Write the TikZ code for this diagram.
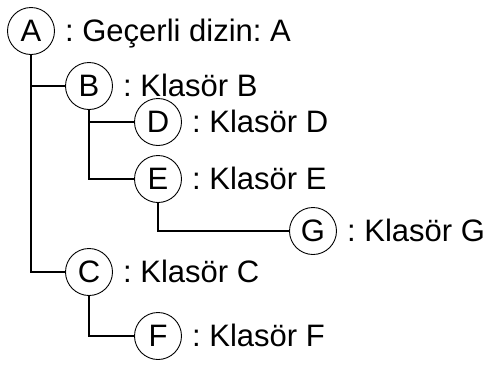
\documentclass[tikz,border=0pt]{standalone}
\usepackage{fontspec}
\setmainfont{Liberation Sans}
\usetikzlibrary{shapes.geometric,positioning}
\tikzset{dir/.style={draw,circle,line width=0.9pt,minimum size=47pt,inner sep=0pt,font=\fontsize{31}{37}\selectfont},
  lbl/.style={anchor=base west,inner sep=0pt,font=\fontsize{31}{37}\selectfont},
  branch/.style={line width=2pt}}

\begin{document}
\frenchspacing
\begin{tikzpicture}[x=1pt,y=-1pt]
  \useasboundingbox (0,0) rectangle (491,365);
  % folders
  \foreach \n/\x/\y in {A/31/31,B/89/86,D/158/122,E/158/179,G/313/231,C/89/272,F/158/336}
    \node[dir] (\n) at (\x,\y) {\n};
  % labels
  \node[lbl] (tA) at ([xshift=10pt,yshift=-10pt]A.east) {: Geçerli dizin: A};
  \foreach \n in {B,D,E,G,C,F}
    \node[lbl] (t\n) at ([xshift=10pt,yshift=-10pt]\n.east) {: Klasör \n};
  % tree
  \foreach \a/\b in {A/B,A/C,B/D,B/E,E/G,C/F}
    \draw[branch] (\a.south) |- (\b.west);
\end{tikzpicture}
\end{document}
